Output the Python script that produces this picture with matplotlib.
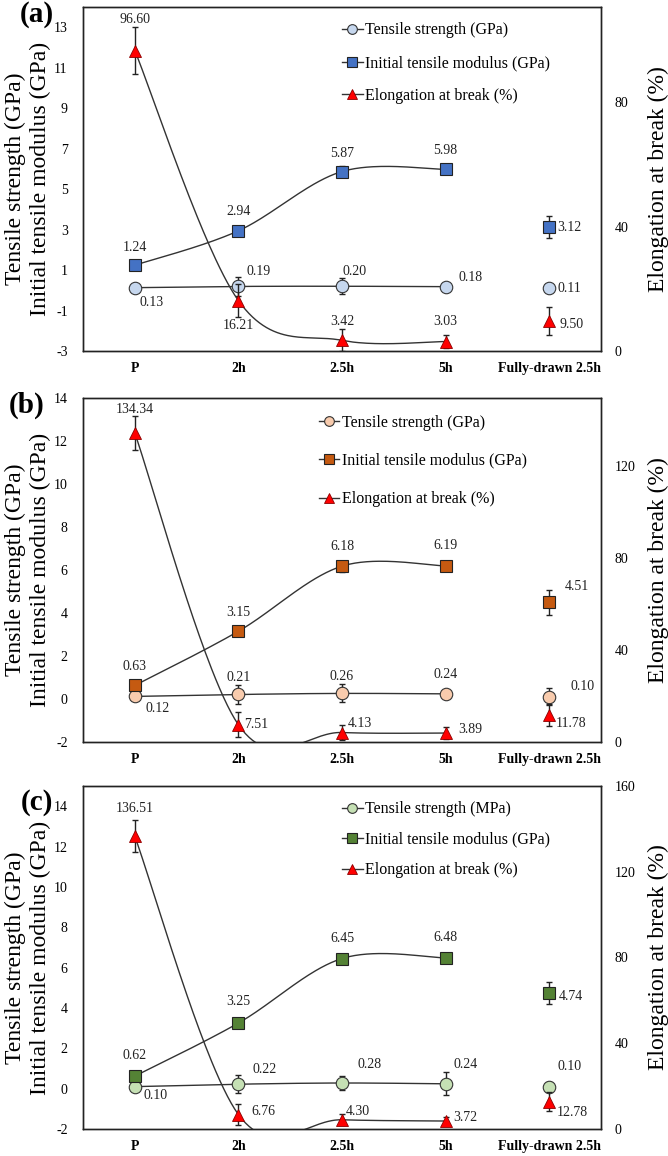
import numpy as np
import matplotlib
matplotlib.use('Agg')
import matplotlib.pyplot as plt
from matplotlib.lines import Line2D

plt.rcParams['font.family'] = ['Liberation Serif', 'DejaVu Serif']
plt.rcParams['axes.unicode_minus'] = False

categories = ['P', '2h', '2.5h', '5h', 'Fully-drawn 2.5h']

# panel (a)
strength_a = [0.13, 0.19, 0.20, 0.18, 0.11]
strength_err_a = [0.05, 0.45, 0.40, 0.20, 0.20]
modulus_a = [1.24, 2.94, 5.87, 5.98, 3.12]
modulus_err_a = [0.10, 0.10, 0.25, 0.10, 0.55]
elong_a = [96.60, 16.21, 3.42, 3.03, 9.50]
elong_err_a = [7.5, 5.3, 3.5, 2.0, 4.5]

# panel (b)
strength_b = [0.12, 0.21, 0.26, 0.24, 0.10]
strength_err_b = [0.05, 0.42, 0.42, 0.20, 0.40]
modulus_b = [0.63, 3.15, 6.18, 6.19, 4.51]
modulus_err_b = [0.10, 0.15, 0.25, 0.10, 0.58]
elong_b = [134.34, 7.51, 4.13, 3.89, 11.78]
elong_err_b = [7.5, 5.4, 3.3, 2.5, 4.7]

# panel (c)
strength_c = [0.10, 0.22, 0.28, 0.24, 0.10]
strength_err_c = [0.05, 0.45, 0.37, 0.57, 0.25]
modulus_c = [0.62, 3.25, 6.45, 6.48, 4.74]
modulus_err_c = [0.10, 0.10, 0.20, 0.10, 0.53]
elong_c = [136.51, 6.76, 4.30, 3.72, 12.78]
elong_err_c = [7.5, 5.1, 2.5, 2.0, 4.5]

# label offsets in pixels (dx, dy)
offs_a = dict(s=[(17, -15), (20, 15), (13, 15), (25, 9), (20, 0)],
              m=[(0, 18), (0, 19), (0, 18), (0, 19), (20, 0)],
              e=[(0, 31), (0, -25), (0, 19), (0, 20), (22, -3)])
offs_b = dict(s=[(23, -12), (0, 17), (0, 17), (0, 19), (33, 10)],
              m=[(0, 19), (0, 19), (0, 20), (0, 20), (28, 16)],
              e=[(0, 24), (18, 0), (18, 9), (25, 4), (22, -9)])
offs_c = dict(s=[(21, -9), (26, 15), (28, 18), (20, 19), (20, 20)],
              m=[(0, 21), (0, 22), (0, 20), (0, 20), (22, -3)],
              e=[(0, 28), (25, 3), (16, 8), (20, 4), (23, -11)])


def smooth(y, n=60):
    # excel style smoothed line: catmull-rom through the points as bezier segments
    x = np.arange(len(y), dtype=float)
    y = np.asarray(y, dtype=float)
    t = np.linspace(0, 1, n)
    xs, ys = [], []
    for i in range(len(y) - 1):
        i0 = max(i - 1, 0)
        i3 = min(i + 2, len(y) - 1)
        p0 = np.array([x[i], y[i]])
        p3 = np.array([x[i + 1], y[i + 1]])
        c1 = p0 + (np.array([x[i + 1], y[i + 1]]) - np.array([x[i0], y[i0]])) / 6
        c2 = p3 - (np.array([x[i3], y[i3]]) - np.array([x[i], y[i]])) / 6
        b = ((1 - t) ** 3)[:, None] * p0 + (3 * (1 - t) ** 2 * t)[:, None] * c1 \
            + (3 * (1 - t) * t ** 2)[:, None] * c2 + (t ** 3)[:, None] * p3
        xs.append(b[:, 0])
        ys.append(b[:, 1])
    return np.concatenate(xs), np.concatenate(ys)


def label(ax, vals, offs):
    for i, (v, (dx, dy)) in enumerate(zip(vals, offs)):
        ax.annotate('%.2f' % v, (i, v), xytext=(dx * 0.72, dy * 0.72),
                    textcoords='offset points', ha='center', va='center',
                    fontsize=10, color='#222222', zorder=6)


def panel(ax, strength, s_err, modulus, m_err, elong, e_err,
          s_col, m_col, s_name, ylim, yticks, elim, eticks, offs, leg_pos, leg_sp):
    x = np.arange(len(categories))
    ax2 = ax.twinx()

    # smoothed lines, first four samples only
    for a, vals in [(ax, strength), (ax, modulus), (ax2, elong)]:
        sx, sy = smooth(vals[:4])
        a.plot(sx, sy, color='#333333', lw=1.0, zorder=2)

    ax.errorbar(x, strength, yerr=s_err, fmt='none', ecolor='#222222',
                elinewidth=1.0, capsize=2, capthick=1.0, zorder=3)
    ax.errorbar(x, modulus, yerr=m_err, fmt='none', ecolor='#222222',
                elinewidth=1.0, capsize=2, capthick=1.0, zorder=3)
    ax2.errorbar(x, elong, yerr=e_err, fmt='none', ecolor='#222222',
                 elinewidth=1.0, capsize=2, capthick=1.0, zorder=3)

    ax.plot(x, strength, ls='none', marker='o', ms=9, mfc=s_col, mec='#333333', mew=0.8, zorder=4)
    ax.plot(x, modulus, ls='none', marker='s', ms=9, mfc=m_col, mec='#222222', mew=0.8, zorder=4)
    ax2.plot(x, elong, ls='none', marker='^', ms=9, mfc='#ff0000', mec='#8b0000', mew=0.6, zorder=4)

    label(ax, strength, offs['s'])
    label(ax, modulus, offs['m'])
    label(ax2, elong, offs['e'])

    ax.set_xlim(-0.5, 4.5)
    ax.set_ylim(*ylim)
    ax.set_yticks(yticks)
    ax2.set_ylim(*elim)
    ax2.set_yticks(eticks)
    ax.set_xticks(x)
    ax.set_xticklabels(categories, fontweight='bold', fontsize=10)
    ax.tick_params(axis='x', length=0, pad=8)
    ax.tick_params(axis='y', length=0, pad=11, labelsize=10)
    ax2.tick_params(axis='y', length=0, pad=10, labelsize=10)
    for a in (ax, ax2):
        for sp in a.spines.values():
            sp.set_color('#222222')
            sp.set_linewidth(1.0)

    ax.text(-0.107, 0.5, 'Tensile strength (GPa)\nInitial tensile modulus (GPa)',
            transform=ax.transAxes, rotation=90, ha='center', va='center',
            fontsize=17, linespacing=1.25)
    ax.text(1.11, 0.5, 'Elongation at break (%)', transform=ax.transAxes,
            rotation=90, ha='center', va='center', fontsize=17)

    handles = [
        Line2D([], [], color='#333333', lw=1.0, marker='o', ms=7, mfc=s_col, mec='#333333', mew=0.8),
        Line2D([], [], color='#333333', lw=1.0, marker='s', ms=7, mfc=m_col, mec='#222222', mew=0.8),
        Line2D([], [], color='#333333', lw=1.0, marker='^', ms=7, mfc='#ff0000', mec='#8b0000', mew=0.6),
    ]
    names = [s_name, 'Initial tensile modulus (GPa)', 'Elongation at break (%)']
    ax2.legend(handles, names, loc='upper left', bbox_to_anchor=leg_pos, frameon=False,
               fontsize=11.5, handlelength=1.3, handletextpad=0.15, borderpad=0,
               borderaxespad=0, labelspacing=leg_sp, numpoints=1)
    return ax2


fig = plt.figure(figsize=(6.68, 11.56), dpi=100)
left, width = 83 / 668, 518 / 668
ax_a = fig.add_axes([left, 1 - 351 / 1156, width, 344 / 1156])
ax_b = fig.add_axes([left, 1 - 742 / 1156, width, 344 / 1156])
ax_c = fig.add_axes([left, 1 - 1129 / 1156, width, 343 / 1156])

panel(ax_a, strength_a, strength_err_a, modulus_a, modulus_err_a, elong_a, elong_err_a,
      '#c6d7ee', '#4472c4', 'Tensile strength (GPa)',
      (-3, 14), np.arange(-3, 14, 2), (0, 110.6), [0, 40, 80], offs_a, (0.5, 0.955), 1.05)
panel(ax_b, strength_b, strength_err_b, modulus_b, modulus_err_b, elong_b, elong_err_b,
      '#f8cbad', '#c55a11', 'Tensile strength (GPa)',
      (-2, 14), np.arange(-2, 15, 2), (0, 149.6), [0, 40, 80, 120], offs_b, (0.455, 0.952), 1.4)
panel(ax_c, strength_c, strength_err_c, modulus_c, modulus_err_c, elong_c, elong_err_c,
      '#c5e0b4', '#548235', 'Tensile strength (MPa)',
      (-2, 15), np.arange(-2, 15, 2), (0, 160), [0, 40, 80, 120, 160], offs_c, (0.5, 0.955), 0.9)

fig.text(37 / 668, 1 - 15 / 1156, '(a)', fontsize=21, fontweight='bold', ha='center', va='center')
fig.text(27 / 668, 1 - 405 / 1156, '(b)', fontsize=21, fontweight='bold', ha='center', va='center')
fig.text(37 / 668, 1 - 803 / 1156, '(c)', fontsize=21, fontweight='bold', ha='center', va='center')

fig.savefig('out.png', dpi=100)
